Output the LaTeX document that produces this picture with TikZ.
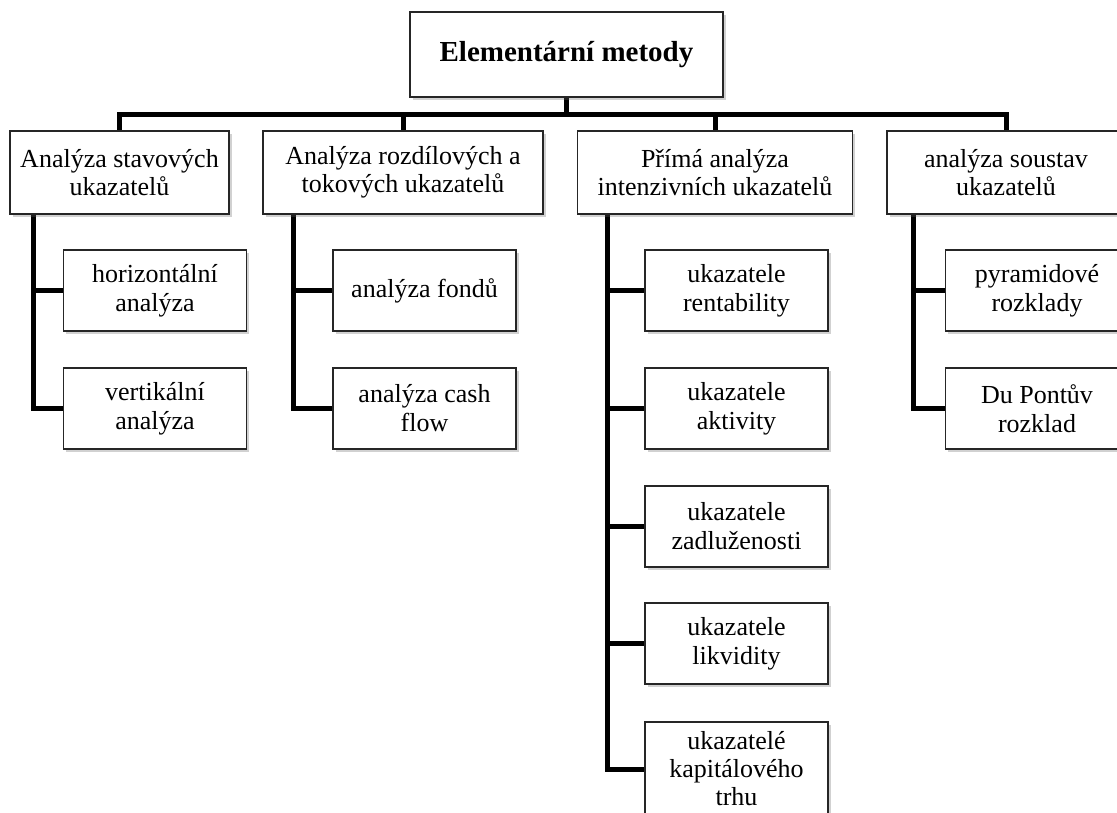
\documentclass[tikz,border=0pt]{standalone}
\usepackage{fontspec}
\setmainfont{Liberation Serif}
\usetikzlibrary{shadows,backgrounds}

\tikzset{
  box/.style={draw=black!85, line width=1.7pt, fill=white, align=center,
    inner sep=0pt, anchor=center,
    drop shadow={shadow xshift=2.5pt, shadow yshift=-2.5pt, opacity=0.3, fill=black!60},
    font=\fontsize{26}{29}\selectfont},
  topbox/.style={box, minimum width=313pt, minimum height=85pt,
    font=\fontsize{29}{31}\selectfont\bfseries},
  groupbox/.style={box, minimum height=83pt, font=\fontsize{26}{28}\selectfont},
  leafbox/.style={box, minimum width=183pt, minimum height=81pt},
  conn/.style={line width=5pt, black, line join=miter},
}

\begin{document}
\begin{tikzpicture}[x=1pt, y=-1pt]
\useasboundingbox (0,0) rectangle (1117,812);
\clip (0,0) rectangle (1117,812);

% root
\node[topbox] (root) at (566.5,54.5) {Elementární metody};

% first level
\node[groupbox, minimum width=219pt] (b1) at (119.5,172.5) {Analýza stavových\\ukazatelů};
\node[groupbox, minimum width=280pt] (b2) at (403,172.5) {Analýza rozdílových a\\tokových ukazatelů};
\node[groupbox, minimum width=275pt] (b3) at (715,172.5) {Přímá analýza\\intenzivních ukazatelů};
\node[groupbox, minimum width=238pt] (b4) at (1006,172.5) {analýza soustav\\ukazatelů};

% second level
\node[leafbox] (c11) at (155,290.5) {horizontální\\analýza};
\node[leafbox] (c12) at (155,408.5) {vertikální\\analýza};

\node[leafbox] (c21) at (424.5,290.5) {analýza fondů};
\node[leafbox] (c22) at (424.5,408.5) {analýza cash\\flow};

\node[leafbox] (c31) at (736.5,290.5) {ukazatele\\rentability};
\node[leafbox] (c32) at (736.5,408.5) {ukazatele\\aktivity};
\node[leafbox] (c33) at (736.5,526.5) {ukazatele\\zadluženosti};
\node[leafbox] (c34) at (736.5,643.5) {ukazatele\\likvidity};
\node[leafbox, minimum height=94pt, font=\fontsize{26}{28}\selectfont] (c35) at (736.5,769) {ukazatelé\\kapitálového\\trhu};

\node[leafbox] (c41) at (1037,290.5) {pyramidové\\rozklady};
\node[leafbox] (c42) at (1037,408.5) {Du Pontův\\rozklad};

% trunk positions
\coordinate (bus) at (0,114);
\coordinate (v1) at (33,0);
\coordinate (v2) at (293,0);
\coordinate (v3) at (607,0);
\coordinate (v4) at (913,0);

\begin{scope}[on background layer]
  % top bus
  \draw[conn] (root.south) -- (root.south |- bus);
  \draw[conn] (b1.north) -- (b1.north |- bus) -- (b4.north |- bus) -- (b4.north);
  \draw[conn] (b2.north) -- (b2.north |- bus);
  \draw[conn] (b3.north) -- (b3.north |- bus);
  % branches
  \draw[conn] (b1.south -| v1) |- (c11.west);
  \draw[conn] (b1.south -| v1) |- (c12.west);
  \draw[conn] (b2.south -| v2) |- (c21.west);
  \draw[conn] (b2.south -| v2) |- (c22.west);
  \draw[conn] (b3.south -| v3) |- (c31.west);
  \draw[conn] (b3.south -| v3) |- (c32.west);
  \draw[conn] (b3.south -| v3) |- (c33.west);
  \draw[conn] (b3.south -| v3) |- (c34.west);
  \draw[conn] (b3.south -| v3) |- (c35.west);
  \draw[conn] (b4.south -| v4) |- (c41.west);
  \draw[conn] (b4.south -| v4) |- (c42.west);
\end{scope}
\end{tikzpicture}
\end{document}
